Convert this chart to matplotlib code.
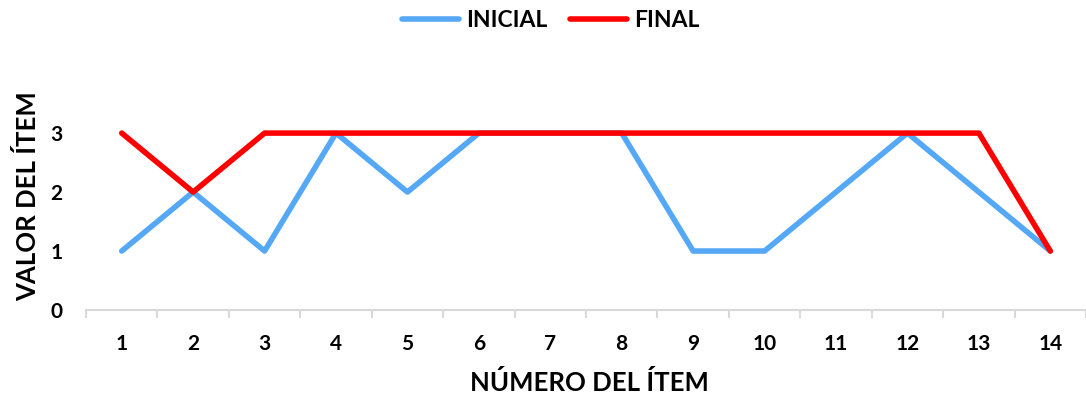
import numpy as np
import matplotlib.pyplot as plt

items = list(range(1, 15))
inicial = [1, 2, 1, 3, 2, 3, 3, 3, 1, 1, 2, 3, 2, 1]
final = [3, 2, 3, 3, 3, 3, 3, 3, 3, 3, 3, 3, 3, 1]
y_ticks = [0, 1, 2, 3]

plt.rcParams['font.family'] = ['Lato', 'DejaVu Sans']
plt.rcParams['font.weight'] = 'bold'

fig = plt.figure(figsize=(10.86, 4.0), dpi=100)
ax = fig.add_axes([0.0792, 0.225, 0.9208, 0.516])

ax.plot(items, inicial, color='#55A8F6', lw=4.0, label='INICIAL', solid_capstyle='round')
ax.plot(items, final, color='#FF0000', lw=4.0, label='FINAL', solid_capstyle='round')

ax.set_xlim(0.5, 14.5)
ax.set_ylim(0, 3.5)

# category labels sit between the boundary ticks
ax.set_xticks(np.arange(0.5, 15, 1))
ax.set_xticklabels([])
ax.set_xticks(items, minor=True)
ax.set_xticklabels([str(i) for i in items], minor=True, fontsize=15, fontweight='bold')
ax.tick_params(axis='x', which='major', length=6, width=1.5, color='#D9D9D9', direction='out')
ax.tick_params(axis='x', which='minor', length=0, pad=17)

ax.set_yticks(y_ticks)
ax.set_yticklabels([str(v) for v in y_ticks], fontsize=15, fontweight='bold')
ax.tick_params(axis='y', length=0, pad=17)

for s in ['top', 'right', 'left']:
    ax.spines[s].set_visible(False)
ax.spines['bottom'].set_color('#D9D9D9')
ax.spines['bottom'].set_linewidth(1.5)

fig.text(0.543, 0.043, 'NÚMERO DEL ÍTEM', ha='center', va='center', fontsize=18.5, fontweight='bold')
fig.text(0.025, 0.51, 'VALOR DEL ÍTEM', ha='center', va='center', rotation=90, fontsize=18.5, fontweight='bold')

fig.legend(loc='center', bbox_to_anchor=(0.507, 0.948), ncol=2, frameon=False, fontsize=16.5,
           handlelength=2.5, columnspacing=1.0, handletextpad=0.3)

fig.savefig('out.png', dpi=100)
